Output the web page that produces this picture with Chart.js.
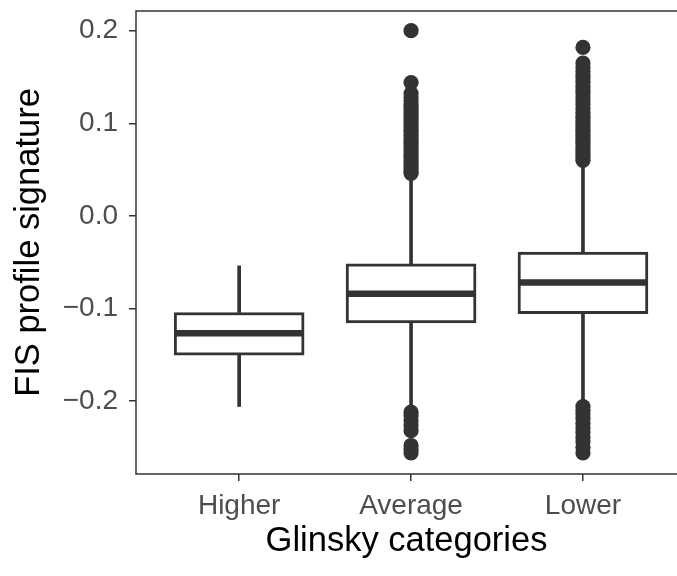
<!DOCTYPE html>
<html lang="en">
<head>
<meta charset="UTF-8">
<title>FIS profile signature</title>
<script src="https://cdn.jsdelivr.net/npm/chart.js"></script>
<style>
  html, body { margin: 0; padding: 0; background: #fff; }
</style>
</head>
<body>
<canvas id="myChart" width="677" height="576"></canvas>
<script>
// data
const categories = ['Higher', 'Average', 'Lower'];
const q1 = [-0.1505, -0.1156, -0.1055];
const medians = [-0.1267, -0.0842, -0.0720];
const q3 = [-0.1044, -0.0518, -0.0392];
const whiskerLow = [-0.2059, -0.2060, -0.1990];
const whiskerHigh = [-0.0540, 0.0390, 0.0550];
const outliersHigher = [];
const outliersAverage = [0.046, 0.048, 0.051, 0.054, 0.057, 0.060, 0.063, 0.066, 0.069, 0.072, 0.075, 0.078,
  0.081, 0.084, 0.087, 0.090, 0.093, 0.096, 0.099, 0.102, 0.105, 0.108, 0.111, 0.114, 0.117, 0.120, 0.124,
  0.128, 0.132, 0.144, 0.200,
  -0.212, -0.216, -0.221, -0.226, -0.232, -0.248, -0.252, -0.256];
const outliersLower = [0.060, 0.063, 0.066, 0.069, 0.072, 0.075, 0.078, 0.081, 0.084, 0.087, 0.090, 0.093,
  0.096, 0.099, 0.102, 0.105, 0.108, 0.112, 0.116, 0.120, 0.124, 0.128, 0.132, 0.136, 0.140, 0.144, 0.148,
  0.152, 0.156, 0.160, 0.165, 0.182,
  -0.206, -0.210, -0.214, -0.219, -0.224, -0.229, -0.234, -0.239, -0.244, -0.250, -0.256];
const yTicks = [-0.2, -0.1, 0.0, 0.1, 0.2];

const dark = '#333333';
const outliers = [outliersHigher, outliersAverage, outliersLower];
Chart.defaults.font.family = '"Liberation Sans", Arial, Helvetica, sans-serif';

const pos = categories.map((c, i) => i + 1);

const boxExtras = {
  id: 'boxExtras',
  afterDatasetsDraw(chart) {
    const { ctx, scales } = chart;
    const meta = chart.getDatasetMeta(2);
    ctx.save();
    ctx.strokeStyle = dark;
    ctx.lineWidth = 6.5;
    meta.data.forEach((bar, i) => {
      const y = scales.y.getPixelForValue(medians[i]);
      ctx.beginPath();
      ctx.moveTo(bar.x - bar.width / 2 + 1, y);
      ctx.lineTo(bar.x + bar.width / 2 - 1, y);
      ctx.stroke();
    });
    ctx.restore();
  },
  afterDraw(chart) {
    // panel border; the right side runs past the picture's edge
    const { ctx, chartArea } = chart;
    ctx.save();
    ctx.strokeStyle = dark;
    ctx.lineWidth = 1.5;
    ctx.beginPath();
    ctx.moveTo(chart.width + 2, chartArea.top);
    ctx.lineTo(chartArea.left, chartArea.top);
    ctx.lineTo(chartArea.left, chartArea.bottom);
    ctx.lineTo(chart.width + 2, chartArea.bottom);
    ctx.stroke();
    ctx.restore();
  }
};

const config = {
  type: 'bar',
  data: {
    datasets: [
      {
        label: 'lower whisker',
        data: pos.map((x, i) => ({ x, y: [whiskerLow[i], q1[i]] })),
        backgroundColor: dark,
        barThickness: 3,
        grouped: false,
        order: 3
      },
      {
        label: 'upper whisker',
        data: pos.map((x, i) => ({ x, y: [q3[i], whiskerHigh[i]] })),
        backgroundColor: dark,
        barThickness: 3,
        grouped: false,
        order: 3
      },
      {
        label: 'box',
        data: pos.map((x, i) => ({ x, y: [q1[i], q3[i]] })),
        backgroundColor: '#ffffff',
        borderColor: dark,
        borderWidth: 3,
        borderSkipped: false,
        barThickness: 130,
        grouped: false,
        order: 2
      },
      {
        type: 'line',
        label: 'outliers',
        data: outliers.flatMap((list, i) => list.map(v => ({ x: pos[i], y: v }))),
        showLine: false,
        pointRadius: 7.6,
        pointBackgroundColor: dark,
        pointBorderWidth: 0,
        order: 1
      }
    ]
  },
  options: {
    responsive: false,
    animation: false,
    devicePixelRatio: 1,
    layout: { autoPadding: false, padding: { top: 11, right: 0, left: 0, bottom: 0 } },
    plugins: { legend: { display: false }, tooltip: { enabled: false } },
    scales: {
      x: {
        type: 'linear',
        min: 0.4,
        max: 3.547,
        offset: false,
        afterBuildTicks: axis => { axis.ticks = pos.map(v => ({ value: v })); },
        afterFit: axis => { axis.height = 102; axis.paddingLeft = 0; axis.paddingRight = 0; },
        ticks: {
          callback: v => categories[v - 1],
          color: '#4d4d4d',
          font: { size: 28 },
          padding: 8,
          maxRotation: 0
        },
        grid: { offset: false, drawOnChartArea: false, drawTicks: true, tickLength: 7, color: dark, lineWidth: 1.5 },
        border: { display: false },
        title: {
          display: true,
          text: 'Glinsky categories',
          color: '#000000',
          font: { size: 34.5 },
          padding: { top: 0, bottom: 14 }
        }
      },
      y: {
        min: -0.2788,
        max: 0.2213,
        afterBuildTicks: axis => { axis.ticks = yTicks.map(v => ({ value: v })); },
        afterFit: axis => { axis.width = 136; axis.paddingTop = 0; axis.paddingBottom = 0; },
        ticks: {
          callback: v => v.toFixed(1).replace('-', '\u2212'),
          color: '#4d4d4d',
          font: { size: 28 },
          padding: 11
        },
        grid: { drawOnChartArea: false, drawTicks: true, tickLength: 7, color: dark, lineWidth: 1.5 },
        border: { display: false },
        title: {
          display: true,
          text: 'FIS profile signature',
          color: '#000000',
          font: { size: 34.5 },
          padding: { top: 9, bottom: 0 }
        }
      }
    }
  },
  plugins: [boxExtras]
};

new Chart(document.getElementById('myChart'), config);
</script>
</body>
</html>
